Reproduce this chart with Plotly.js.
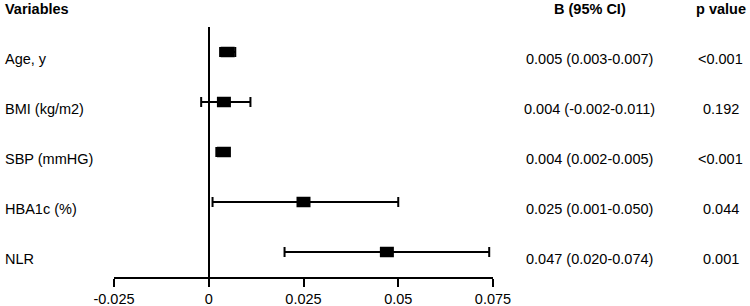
<!DOCTYPE html>
<html>
<head>
<meta charset="utf-8">
<script src="https://cdn.plot.ly/plotly-3.0.1.min.js"></script>
<style>html,body{margin:0;padding:0;background:#fff;}#chart{width:750px;height:306px;}</style>
</head>
<body>
<div id="chart"></div>
<script>
// ---- data ----
var variables = ["Age, y", "BMI (kg/m2)", "SBP (mmHG)", "HBA1c (%)", "NLR"];
var estimates = [0.005, 0.004, 0.004, 0.025, 0.047];
var ciLower   = [0.003, -0.002, 0.002, 0.001, 0.020];
var ciUpper   = [0.007, 0.011, 0.005, 0.050, 0.074];
var ciLabels  = ["0.005 (0.003-0.007)", "0.004 (-0.002-0.011)", "0.004 (0.002-0.005)", "0.025 (0.001-0.050)", "0.047 (0.020-0.074)"];
var pValues   = ["<0.001", "0.192", "<0.001", "0.044", "0.001"];
var tickValues = [-0.025, 0, 0.025, 0.05, 0.075];
var tickLabels = ["-0.025", "0", "0.025", "0.05", "0.075"];
var headers = {variables: "Variables", ci: "B (95% CI)", p: "p value"};

// ---- layout helpers ----
var W = 750, H = 306;
var L = 113.5, R = 493, T = 27, B = 277;
function px(x) { return (x - L) / (R - L); }
function py(y) { return (B - y) / (B - T); }
var FONT = "Liberation Sans, Arial, sans-serif";
var FS = 14.5;

var errPlus = estimates.map(function (v, i) { return ciUpper[i] - v; });
var errMinus = estimates.map(function (v, i) { return v - ciLower[i]; });

var trace = {
  type: "scatter",
  mode: "markers",
  x: estimates,
  y: variables,
  marker: {symbol: "line-ew", size: 10, color: "#000", line: {color: "#000", width: 10.5}},
  error_x: {type: "data", symmetric: false, array: errPlus, arrayminus: errMinus,
            color: "#000", thickness: 2, width: 5},
  hoverinfo: "skip",
  cliponaxis: false
};

var ann = [];
var rowShift = -6.5;
ann.push({xref: "paper", yref: "paper", x: px(2), y: py(9), xanchor: "left", yanchor: "middle",
          text: "<b>" + headers.variables + "</b>", showarrow: false, font: {family: FONT, size: FS, color: "#000"}});
ann.push({xref: "paper", yref: "paper", x: px(590), y: py(9), xanchor: "center", yanchor: "middle",
          text: "<b>" + headers.ci + "</b>", showarrow: false, font: {family: FONT, size: FS, color: "#000"}});
ann.push({xref: "paper", yref: "paper", x: px(721), y: py(9), xanchor: "center", yanchor: "middle",
          text: "<b>" + headers.p + "</b>", showarrow: false, font: {family: FONT, size: FS, color: "#000"}});
variables.forEach(function (v, i) {
  ann.push({xref: "paper", yref: "y", x: px(2), y: v, yshift: rowShift, xanchor: "left", yanchor: "middle",
            text: v, showarrow: false, font: {family: FONT, size: FS, color: "#000"}});
  ann.push({xref: "paper", yref: "y", x: px(590), y: v, yshift: rowShift, xanchor: "center", yanchor: "middle",
            text: ciLabels[i], showarrow: false, font: {family: FONT, size: FS, color: "#000"}});
  ann.push({xref: "paper", yref: "y", x: px(721), y: v, yshift: rowShift, xanchor: "center", yanchor: "middle",
            text: pValues[i].replace("<", "&lt;"), showarrow: false, font: {family: FONT, size: FS, color: "#000"}});
});

var layout = {
  width: W, height: H,
  margin: {l: L, r: W - R, t: T, b: H - B, pad: 0},
  paper_bgcolor: "#fff", plot_bgcolor: "#fff",
  showlegend: false,
  font: {family: FONT, size: FS, color: "#000"},
  xaxis: {
    range: [-0.025, 0.075], fixedrange: true,
    tickmode: "array", tickvals: tickValues, ticktext: tickLabels,
    ticks: "outside", ticklen: 8, tickwidth: 2, tickcolor: "#000",
    showline: true, linecolor: "#000", linewidth: 2,
    showgrid: false,
    zeroline: true, zerolinecolor: "#000", zerolinewidth: 2,
    tickfont: {family: FONT, size: FS, color: "#000"}
  },
  yaxis: {
    type: "category", categoryarray: variables, categoryorder: "array",
    range: [4.5, -0.5], fixedrange: true,
    showticklabels: false, showline: false, showgrid: false, zeroline: false, ticks: ""
  },
  annotations: ann
};

Plotly.newPlot("chart", [trace], layout, {displayModeBar: false, staticPlot: true});
</script>
</body>
</html>
